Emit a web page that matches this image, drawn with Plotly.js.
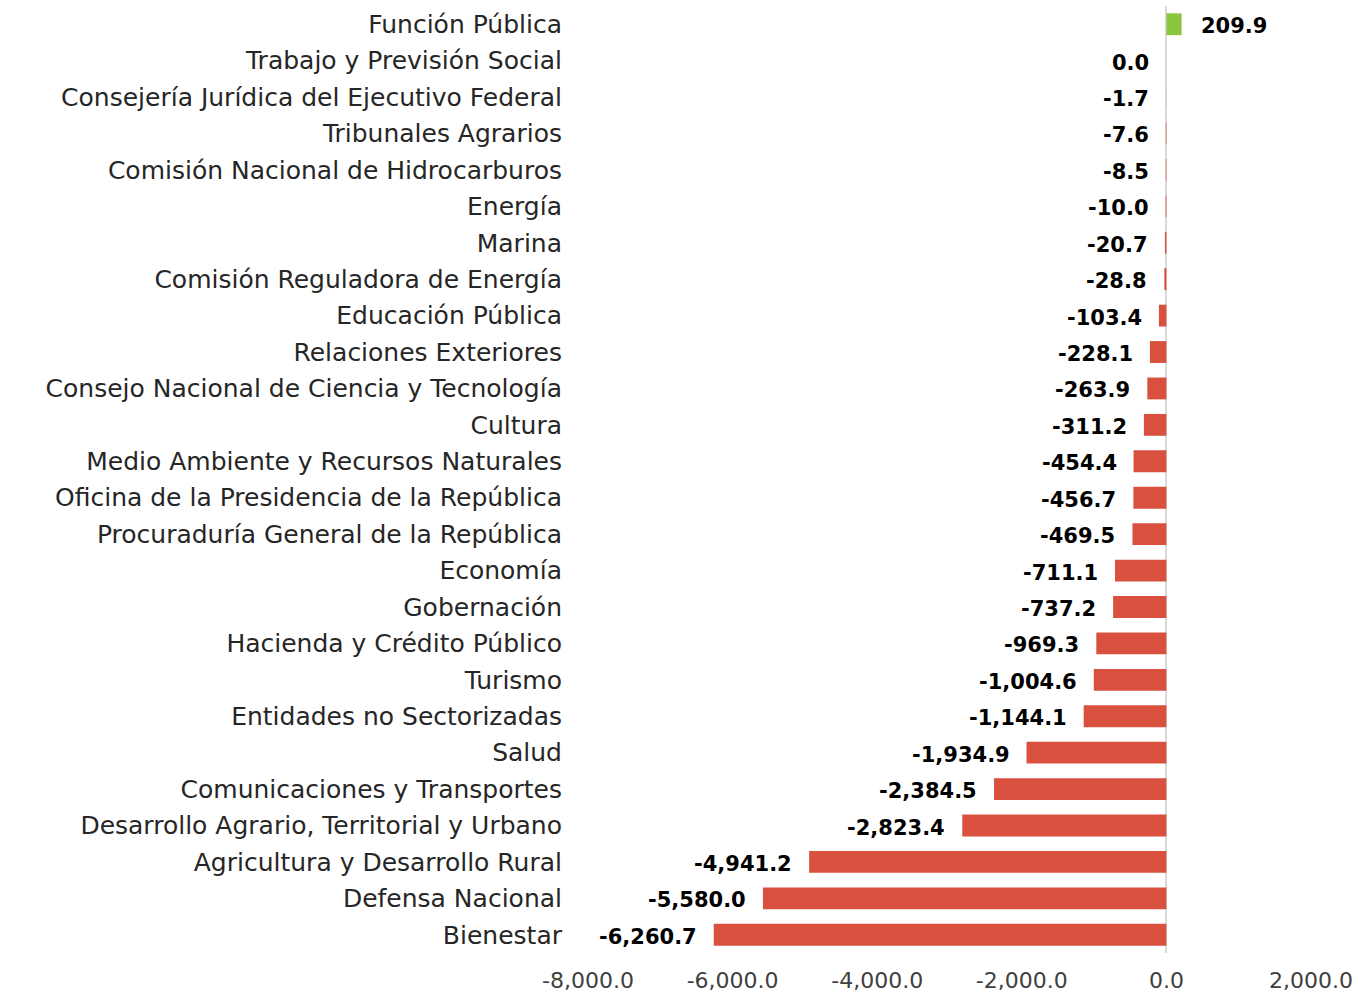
<!DOCTYPE html>
<html>
<head>
<meta charset="utf-8">
<script src="https://cdn.plot.ly/plotly-3.0.1.min.js"></script>
<style>html,body{margin:0;padding:0;background:#fff;}#chart{width:1358px;height:995px;}</style>
</head>
<body>
<div id="chart"></div>
<script>
const categories = [
  "Función Pública",
  "Trabajo y Previsión Social",
  "Consejería Jurídica del Ejecutivo Federal",
  "Tribunales Agrarios",
  "Comisión Nacional de Hidrocarburos",
  "Energía",
  "Marina",
  "Comisión Reguladora de Energía",
  "Educación Pública",
  "Relaciones Exteriores",
  "Consejo Nacional de Ciencia y Tecnología",
  "Cultura",
  "Medio Ambiente y Recursos Naturales",
  "Oficina de la Presidencia de la República",
  "Procuraduría General de la República",
  "Economía",
  "Gobernación",
  "Hacienda y Crédito Público",
  "Turismo",
  "Entidades no Sectorizadas",
  "Salud",
  "Comunicaciones y Transportes",
  "Desarrollo Agrario, Territorial y Urbano",
  "Agricultura y Desarrollo Rural",
  "Defensa Nacional",
  "Bienestar"
];
const values = [
  209.9, 0.0, -1.7, -7.6, -8.5, -10.0, -20.7, -28.8, -103.4, -228.1,
  -263.9, -311.2, -454.4, -456.7, -469.5, -711.1, -737.2, -969.3,
  -1004.6, -1144.1, -1934.9, -2384.5, -2823.4, -4941.2, -5580.0, -6260.7
];
const xTickValues = [-8000, -6000, -4000, -2000, 0, 2000];

const FONT = "DejaVu Sans, sans-serif";
const RED = "#d9503f";
const GREEN = "#8cc63f";

const fmt = v => v.toLocaleString("en-US", {minimumFractionDigits: 1, maximumFractionDigits: 1});

const trace = {
  type: "bar",
  orientation: "h",
  x: values,
  y: categories,
  width: 0.6,
  marker: {color: values.map(v => v > 0 ? GREEN : RED)},
  hoverinfo: "x+y"
};

const annotations = values.map((v, i) => ({
  x: v,
  y: categories[i],
  xref: "x",
  yref: "y",
  text: "<b>" + fmt(v) + "</b>",
  showarrow: false,
  xanchor: v > 0 ? "left" : "right",
  xshift: v > 0 ? 17 : -15,
  yshift: -2,
  font: {family: FONT, size: 21, color: "#000"}
}));

const layout = {
  width: 1358,
  height: 995,
  margin: {l: 588, r: 47, t: 6, b: 42},
  paper_bgcolor: "#fff",
  plot_bgcolor: "#fff",
  showlegend: false,
  bargap: 0.4,
  xaxis: {
    range: [-8000, 2000],
    tickvals: xTickValues,
    ticktext: xTickValues.map(fmt),
    showgrid: false,
    zeroline: true,
    zerolinecolor: "#d9d9d9",
    zerolinewidth: 2,
    showline: false,
    ticks: "",
    ticklabelstandoff: 12,
    tickfont: {family: FONT, size: 22, color: "#404040"},
    fixedrange: true
  },
  yaxis: {
    autorange: "reversed",
    showgrid: false,
    zeroline: false,
    showline: false,
    ticks: "",
    ticklabelstandoff: 25,
    tickfont: {family: FONT, size: 25, color: "#262626"},
    automargin: false,
    fixedrange: true
  },
  annotations: annotations
};

Plotly.newPlot("chart", [trace], layout, {displayModeBar: false, staticPlot: true});
</script>
</body>
</html>
